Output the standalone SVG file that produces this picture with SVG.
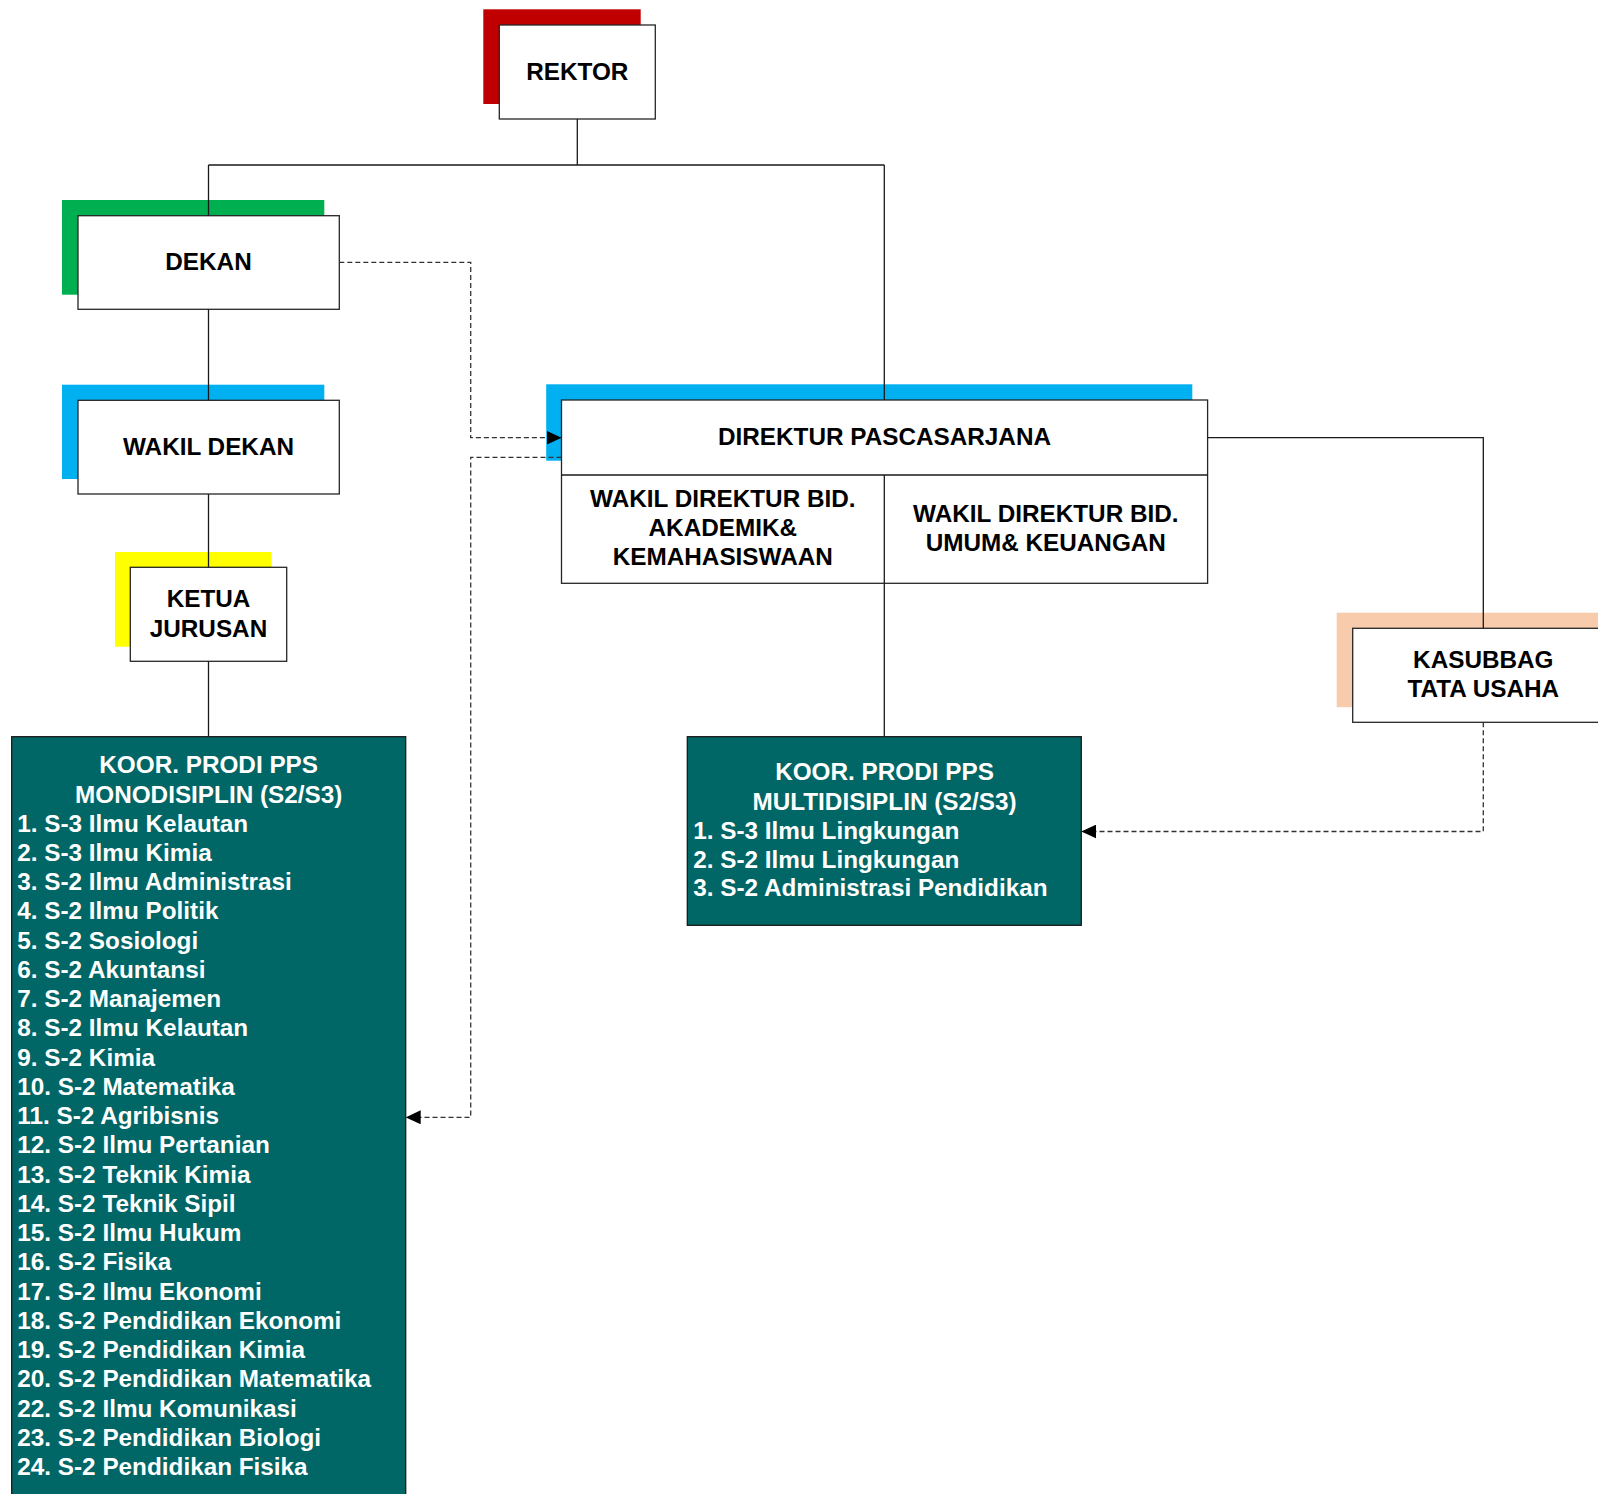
<svg xmlns="http://www.w3.org/2000/svg" width="1598" height="1494" viewBox="0 0 1598 1494">
  <style>
    .box { fill: #ffffff; stroke: #262626; stroke-width: 1.3; }
    .teal { fill: #006666; stroke: #1a1a1a; stroke-width: 1.3; }
    .lbl { font-family: "Liberation Sans", Arial, sans-serif; font-weight: bold; font-size: 24.3px; fill: #000000; text-anchor: middle; }
    .wlbl { font-family: "Liberation Sans", Arial, sans-serif; font-weight: bold; font-size: 24.3px; fill: #ffffff; }
    .mid { text-anchor: middle; }
    .line { fill: none; stroke: #1a1a1a; stroke-width: 1.3; }
    .dash { fill: none; stroke: #333333; stroke-width: 1.3; stroke-dasharray: 5 3; }
  </style>
  <defs>
    <marker id="arrow" markerWidth="15" markerHeight="14" refX="15" refY="7" orient="auto" markerUnits="userSpaceOnUse">
      <path d="M0,0 L15,7 L0,14 Z" fill="#000000"/>
    </marker>
  </defs>

  <rect width="1598" height="1494" fill="#ffffff"/>

  <!-- Rektor -->
  <g id="rektor">
    <rect x="483.3" y="9.3" width="157.4" height="94.7" fill="#C00000"/>
    <rect class="box" x="499.3" y="25" width="156" height="94"/>
    <text class="lbl" x="577.3" y="80">REKTOR</text>
  </g>

  <!-- Dekan -->
  <g id="dekan">
    <rect x="62" y="200" width="262.3" height="94.7" fill="#00B050"/>
    <rect class="box" x="78" y="215.7" width="261.3" height="93.6"/>
    <text class="lbl" x="208.5" y="270">DEKAN</text>
  </g>

  <!-- Wakil Dekan -->
  <g id="wakil-dekan">
    <rect x="62" y="384.7" width="262.3" height="94.3" fill="#00B0F0"/>
    <rect class="box" x="78" y="400.3" width="261.3" height="93.7"/>
    <text class="lbl" x="208.5" y="455">WAKIL DEKAN</text>
  </g>

  <!-- Ketua Jurusan -->
  <g id="ketua-jurusan">
    <rect x="115" y="552" width="156.7" height="94.7" fill="#FFFF00"/>
    <rect class="box" x="130.3" y="567.3" width="156.4" height="94"/>
    <text class="lbl" x="208.5" y="606.7">KETUA</text>
    <text class="lbl" x="208.5" y="636.7">JURUSAN</text>
  </g>

  <!-- Direktur Pascasarjana with two deputies -->
  <g id="direktur">
    <rect x="546.2" y="384.3" width="646.1" height="76.4" fill="#00B0F0"/>
    <rect class="box" x="561.5" y="400" width="646.1" height="183.3"/>
    <line class="line" x1="561.5" y1="475" x2="1207.6" y2="475"/>
    <line class="line" x1="884.3" y1="475" x2="884.3" y2="583.3"/>
    <text class="lbl" x="884.5" y="445">DIREKTUR PASCASARJANA</text>
    <text class="lbl" x="722.8" y="506.7">WAKIL DIREKTUR BID.</text>
    <text class="lbl" x="722.8" y="536.2">AKADEMIK&amp;</text>
    <text class="lbl" x="722.8" y="565.2">KEMAHASISWAAN</text>
    <text class="lbl" x="1045.8" y="521.7">WAKIL DIREKTUR BID.</text>
    <text class="lbl" x="1045.8" y="550.5">UMUM&amp; KEUANGAN</text>
  </g>

  <!-- Kasubbag Tata Usaha -->
  <g id="kasubbag">
    <rect x="1336.7" y="612.7" width="280" height="94.5" fill="#F8CBAD"/>
    <rect class="box" x="1352.7" y="628.3" width="270" height="94"/>
    <text class="lbl" x="1483.3" y="668.3">KASUBBAG</text>
    <text class="lbl" x="1483.3" y="697.3">TATA USAHA</text>
  </g>

  <!-- Koordinator prodi monodisiplin -->
  <g id="koor-mono">
    <rect class="teal" x="11.7" y="736.7" width="394" height="770"/>
    <text class="wlbl mid" x="208.7" y="773.3">KOOR. PRODI PPS</text>
    <text class="wlbl mid" x="208.7" y="802.5">MONODISIPLIN (S2/S3)</text>
    <text class="wlbl" x="17.3" y="831.7">1. S-3 Ilmu Kelautan</text>
    <text class="wlbl" x="17.3" y="860.9">2. S-3 Ilmu Kimia</text>
    <text class="wlbl" x="17.3" y="890.2">3. S-2 Ilmu Administrasi</text>
    <text class="wlbl" x="17.3" y="919.4">4. S-2 Ilmu Politik</text>
    <text class="wlbl" x="17.3" y="948.7">5. S-2 Sosiologi</text>
    <text class="wlbl" x="17.3" y="977.9">6. S-2 Akuntansi</text>
    <text class="wlbl" x="17.3" y="1007.1">7. S-2 Manajemen</text>
    <text class="wlbl" x="17.3" y="1036.4">8. S-2 Ilmu Kelautan</text>
    <text class="wlbl" x="17.3" y="1065.6">9. S-2 Kimia</text>
    <text class="wlbl" x="17.3" y="1094.9">10. S-2 Matematika</text>
    <text class="wlbl" x="17.3" y="1124.1">11. S-2 Agribisnis</text>
    <text class="wlbl" x="17.3" y="1153.3">12. S-2 Ilmu Pertanian</text>
    <text class="wlbl" x="17.3" y="1182.6">13. S-2 Teknik Kimia</text>
    <text class="wlbl" x="17.3" y="1211.8">14. S-2 Teknik Sipil</text>
    <text class="wlbl" x="17.3" y="1241.1">15. S-2 Ilmu Hukum</text>
    <text class="wlbl" x="17.3" y="1270.3">16. S-2 Fisika</text>
    <text class="wlbl" x="17.3" y="1299.5">17. S-2 Ilmu Ekonomi</text>
    <text class="wlbl" x="17.3" y="1328.8">18. S-2 Pendidikan Ekonomi</text>
    <text class="wlbl" x="17.3" y="1358.0">19. S-2 Pendidikan Kimia</text>
    <text class="wlbl" x="17.3" y="1387.3">20. S-2 Pendidikan Matematika</text>
    <text class="wlbl" x="17.3" y="1416.5">22. S-2 Ilmu Komunikasi</text>
    <text class="wlbl" x="17.3" y="1445.7">23. S-2 Pendidikan Biologi</text>
    <text class="wlbl" x="17.3" y="1475.0">24. S-2 Pendidikan Fisika</text>
  </g>

  <!-- Koordinator prodi multidisiplin -->
  <g id="koor-multi">
    <rect class="teal" x="687.3" y="736.7" width="394" height="188.6"/>
    <text class="wlbl mid" x="884.5" y="780">KOOR. PRODI PPS</text>
    <text class="wlbl mid" x="884.5" y="809.5">MULTIDISIPLIN (S2/S3)</text>
    <text class="wlbl" x="693.3" y="838.7">1. S-3 Ilmu Lingkungan</text>
    <text class="wlbl" x="693.3" y="867.5">2. S-2 Ilmu Lingkungan</text>
    <text class="wlbl" x="693.3" y="896.2">3. S-2 Administrasi Pendidikan</text>
  </g>

  <!-- Connectors -->
  <g id="connectors">
    <path class="line" d="M577.3,119 V165 M208.5,165 H884.3"/>
    <path class="line" d="M208.5,165 V215.7"/>
    <path class="line" d="M884.3,165 V400"/>
    <path class="line" d="M208.5,309.3 V400.3"/>
    <path class="line" d="M208.5,494 V567.3"/>
    <path class="line" d="M208.5,661.3 V736.7"/>
    <path class="line" d="M884.3,583.3 V736.7"/>
    <path class="line" d="M1207.6,437.7 H1483.3 V628.3"/>
    <path class="dash" d="M339.3,262.3 H470.7 V437.7 H561.5" marker-end="url(#arrow)"/>
    <path class="dash" d="M561.5,457.3 H470.7 V1117.3 H405.7" marker-end="url(#arrow)"/>
    <path class="dash" d="M1483.3,722.3 V831.5 H1081.3" marker-end="url(#arrow)"/>
  </g>
</svg>
